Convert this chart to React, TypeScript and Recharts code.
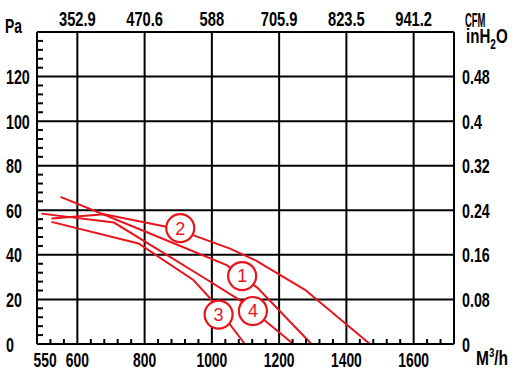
import React from 'react';
import { LineChart, Line, XAxis, YAxis, CartesianGrid, ReferenceDot } from 'recharts';

// ---------- data ----------
const flowLabelTicks = [504, 600, 800, 1000, 1200, 1400, 1600];
const flowTickLabels = ['550', '600', '800', '1000', '1200', '1400', '1600'];
const flowMinorTicks = [520, 560, 640, 680, 720, 760, 840, 880, 920, 960, 1040, 1080, 1120, 1160, 1240, 1280, 1320, 1360, 1440, 1480, 1520, 1560, 1640, 1680];
const cfmTicks = [600, 800, 1000, 1200, 1400, 1600];
const cfmTickLabels = ['352.9', '470.6', '588', '705.9', '823.5', '941.2'];
const paTicks = [0, 20, 40, 60, 80, 100, 120];
const paTickLabels = ['0', '20', '40', '60', '80', '100', '120'];
const inH2OTickLabels = ['0', '0.08', '0.16', '0.24', '0.32', '0.4', '0.48'];
const paMinorTicks = [4, 8, 12, 16, 24, 28, 32, 36, 44, 48, 52, 56, 64, 68, 72, 76, 84, 88, 92, 96, 104, 108, 112, 116, 124, 128, 132, 136];

const curve1 = [
  { q: 550, p: 66 }, { q: 787, p: 51.4 }, { q: 1044, p: 35.4 }, { q: 1135, p: 25.3 }, { q: 1296, p: 0 },
];
const curve2 = [
  { q: 523, p: 56.3 }, { q: 680, p: 58.2 }, { q: 787, p: 55 }, { q: 905, p: 51.4 }, { q: 950, p: 48.5 },
  { q: 1054, p: 42.8 }, { q: 1130, p: 37.5 }, { q: 1277, p: 24.3 }, { q: 1470, p: 0 },
];
const curve3 = [
  { q: 523, p: 54.8 }, { q: 782, p: 45.1 }, { q: 945, p: 28.7 }, { q: 995, p: 20.5 }, { q: 1098, p: 0 },
];
const curve4 = [
  { q: 493, p: 58.5 }, { q: 709, p: 54.5 }, { q: 980, p: 29.4 }, { q: 1090, p: 19 }, { q: 1242, p: 0 },
];
const curveLabels = [
  { id: '1', q: 1090, p: 30.5 },
  { id: '2', q: 906, p: 52 },
  { id: '3', q: 1020, p: 13.2 },
  { id: '4', q: 1122, p: 14.8 },
];

// ---------- layout ----------
const W = 517;
const H = 371;
const LEFT = 37;
const RIGHT = 63;
const TOP = 32;
const BOTTOM = 27;
const RED = '#e8141c';
const FONT = "'Liberation Sans', Arial, Helvetica, sans-serif";
const xDomain: [number, number] = [480, 1720];
const yDomain: [number, number] = [0, 140];
const MINOR_X_PX = 5; // tick length in px
const MINOR_Y_PX = 6;

function CondText(props: any) {
  const { x, y, anchor, sx, children, size = 21, weight = 'bold', fill = '#000' } = props;
  return (
    <g transform={`translate(${x},${y}) scale(${sx},1)`}>
      <text x={0} y={0} textAnchor={anchor} fontFamily={FONT} fontWeight={weight} fontSize={size} fill={fill}>
        {children}
      </text>
    </g>
  );
}

const labelFor = (ticks: number[], labels: string[], v: number) => {
  const i = ticks.indexOf(v);
  return i >= 0 ? labels[i] : '';
};

// minor ticks: points on the axes; the dot renderer draws the inward tick segment
const bottomMinorPts = flowMinorTicks.map((v) => ({ q: v, p: yDomain[0] }));
const leftMinorPts = paMinorTicks.map((v) => ({ q: xDomain[0], p: v }));

const BottomMinorDot = (props: any) => {
  const { cx, cy } = props;
  if (cx == null || cy == null) return <g />;
  return <path d={`M${cx},${cy}V${cy - MINOR_X_PX}`} stroke="#000" strokeWidth={2} fill="none" />;
};
const LeftMinorDot = (props: any) => {
  const { cx, cy } = props;
  if (cx == null || cy == null) return <g />;
  return <path d={`M${cx},${cy}H${cx + MINOR_Y_PX}`} stroke="#000" strokeWidth={2} fill="none" />;
};

const LeftTick = (props: any) => (
  <CondText x={6} y={props.y + 7.5} anchor="start" sx={0.68}>
    {labelFor(paTicks, paTickLabels, props.payload.value)}
  </CondText>
);
const RightTick = (props: any) => (
  <CondText x={W - RIGHT + 8} y={props.y + 7.5} anchor="start" sx={0.68}>
    {labelFor(paTicks, inH2OTickLabels, props.payload.value)}
  </CondText>
);
const TopTick = (props: any) => (
  <CondText x={props.x} y={TOP - 6} anchor="middle" sx={0.7}>
    {labelFor(cfmTicks, cfmTickLabels, props.payload.value)}
  </CondText>
);
const BottomTick = (props: any) => (
  <CondText x={props.x} y={H - BOTTOM + 23} anchor="middle" sx={0.66}>
    {labelFor(flowLabelTicks, flowTickLabels, props.payload.value)}
  </CondText>
);

const axisLine = { stroke: '#000', strokeWidth: 2 };
const curves = [curve1, curve2, curve3, curve4];

export default function App() {
  return (
    <div style={{ position: 'absolute', left: 0, top: 0, width: W, height: H, background: '#fff' }}>
      <LineChart width={W} height={H} margin={{ top: 0, right: 0, bottom: 0, left: 0 }}>
        <CartesianGrid xAxisId="top" yAxisId="right" stroke="#000" strokeWidth={2} />
        <XAxis
          xAxisId="bottom" type="number" dataKey="q" domain={xDomain} ticks={flowLabelTicks} interval={0}
          height={BOTTOM} tickLine={false} tickSize={0} tickMargin={0}
          axisLine={axisLine} tick={<BottomTick />}
        />
        <XAxis
          xAxisId="top" orientation="top" type="number" dataKey="q" domain={xDomain} ticks={cfmTicks} interval={0}
          height={TOP} tickLine={false} tickSize={0} tickMargin={0}
          axisLine={axisLine} tick={<TopTick />}
        />
        <YAxis
          yAxisId="left" type="number" domain={yDomain} ticks={paTicks} interval={0}
          width={LEFT} tickLine={false} tickSize={0} tickMargin={0} axisLine={axisLine} tick={<LeftTick />}
        />
        <YAxis
          yAxisId="right" orientation="right" type="number" domain={yDomain} ticks={paTicks} interval={0}
          width={RIGHT} tickLine={false} tickSize={0} tickMargin={0}
          axisLine={axisLine} tick={<RightTick />}
        />
        {/* invisible copy of curve 2 tied to the secondary (CFM / inH2O) axes so they get a domain */}
        <Line
          data={curve2} dataKey="p" xAxisId="top" yAxisId="right" stroke="none" strokeWidth={0}
          dot={false} activeDot={false} isAnimationActive={false} legendType="none"
        />
        <Line
          data={bottomMinorPts} dataKey="p" xAxisId="bottom" yAxisId="left" stroke="none"
          dot={<BottomMinorDot />} activeDot={false} isAnimationActive={false} legendType="none"
        />
        <Line
          data={leftMinorPts} dataKey="p" xAxisId="bottom" yAxisId="left" stroke="none"
          dot={<LeftMinorDot />} activeDot={false} isAnimationActive={false} legendType="none"
        />
        {curves.map((c, i) => (
          <Line
            key={i} data={c} dataKey="p" xAxisId="bottom" yAxisId="left" type="linear"
            stroke={RED} strokeWidth={2} dot={false} activeDot={false} isAnimationActive={false}
          />
        ))}
        {curveLabels.map((l) => (
          <ReferenceDot
            key={l.id} x={l.q} y={l.p} xAxisId="bottom" yAxisId="left" r={14}
            fill="#fff" stroke={RED} strokeWidth={2.2}
            label={{ value: l.id, position: 'center', fill: RED, fontSize: 18, fontFamily: FONT }}
          />
        ))}
      </LineChart>
      <svg width={W} height={H} style={{ position: 'absolute', left: 0, top: 0, pointerEvents: 'none' }}>
        <CondText x={5} y={33} anchor="start" sx={0.66}>Pa</CondText>
        <CondText x={465} y={27} anchor="start" sx={0.45} size={21}>CFM</CondText>
        <g transform={`translate(466,43) scale(0.72,1)`}>
          <text x={0} y={0} fontFamily={FONT} fontWeight="bold" fontSize={21} fill="#000">
            inH<tspan fontSize={14} dy={6}>2</tspan><tspan dy={-6}>O</tspan>
          </text>
        </g>
        <g transform={`translate(476,365) scale(0.74,1)`}>
          <text x={0} y={0} fontFamily={FONT} fontWeight="bold" fontSize={21} fill="#000">
            M<tspan fontSize={13} dy={-8}>3</tspan><tspan dy={8}>/h</tspan>
          </text>
        </g>
      </svg>
    </div>
  );
}
